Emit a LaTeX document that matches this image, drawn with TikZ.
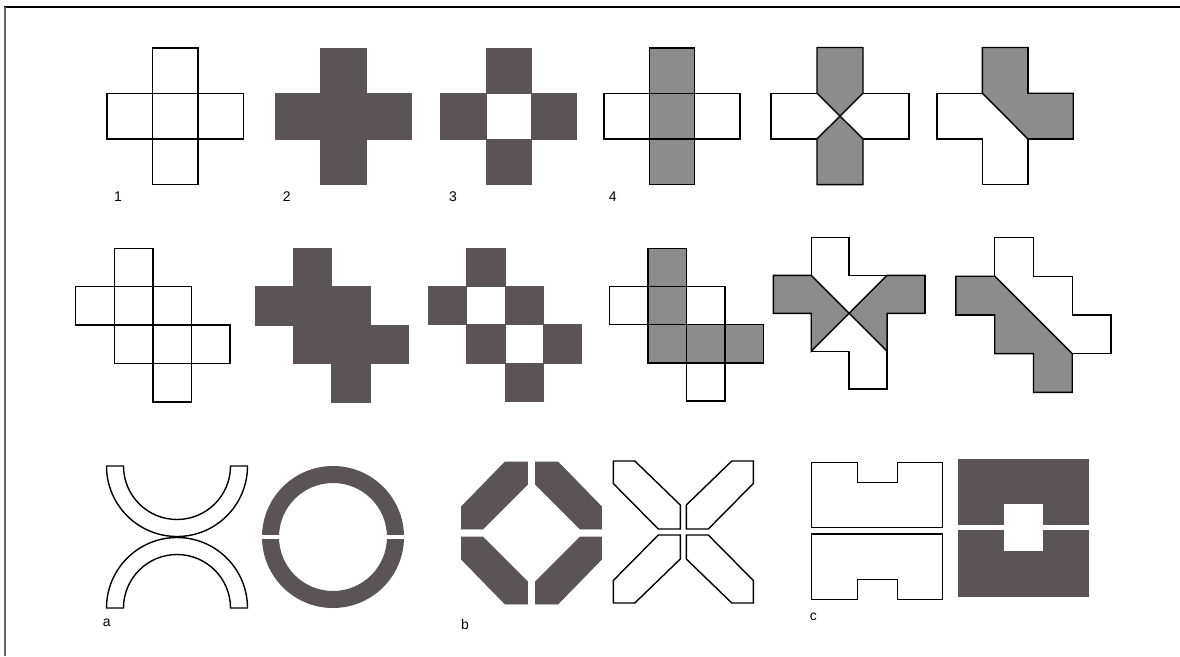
\documentclass[tikz,border=0pt]{standalone}
\usepackage{fontspec}
\setmainfont{Liberation Sans}
\begin{document}
\begin{tikzpicture}[x=1pt,y=-1pt,line join=miter]
\definecolor{darkfill}{RGB}{90,84,86}
\definecolor{lightfill}{RGB}{140,140,140}
\tikzset{
  outl/.style={draw=black,line width=1.4pt},
  darkpc/.style={fill=darkfill,draw=darkfill,line width=0.6pt},
  greypc/.style={fill=lightfill,draw=black,line width=1.4pt},
  whitepc/.style={fill=white,draw=black,line width=1.4pt},
  lab/.style={font=\fontsize{14}{14}\selectfont,inner sep=0pt,anchor=center}
}
\useasboundingbox (0,0) rectangle (1180,656);
\fill[white] (0,0) rectangle (1180,656);
% frame
\draw[line width=2pt,black] (4,6.5) -- (1180,6.5);
\draw[line width=2pt,black!60] (5,6.5) -- (5,656);

% ===== Row 1 =====
% Fig 1
\begin{scope}[shift={(107,48)},x=45.4pt,y=-45.5pt]
  \draw[outl] (1,0) rectangle (2,3);
  \draw[outl] (0,1) rectangle (3,2);
\end{scope}
% Fig 2
\begin{scope}[shift={(275,48)},x=45.5pt,y=-45.5pt]
  \path[darkpc] (1,0)--(2,0)--(2,1)--(3,1)--(3,2)--(2,2)--(2,3)--(1,3)--(1,2)--(0,2)--(0,1)--(1,1)--cycle;
\end{scope}
% Fig 3
\begin{scope}[shift={(440.7,48)},x=45.3pt,y=-45.5pt]
  \path[darkpc] (1,0) rectangle (2,1);
  \path[darkpc] (0,1) rectangle (1,2);
  \path[darkpc] (2,1) rectangle (3,2);
  \path[darkpc] (1,2) rectangle (2,3);
\end{scope}
% Fig 4
\begin{scope}[shift={(604,48)},x=45.3pt,y=-45.5pt]
  \path[whitepc] (0,1) rectangle (3,2);
  \path[greypc] (1,0) rectangle (2,3);
  \draw[outl] (0,1) rectangle (3,2);
\end{scope}
% Fig 5
\begin{scope}[shift={(771,47.5)},x=46pt,y=-45.7pt]
  \path[whitepc] (0,1) rectangle (3,2);
  \path[greypc] (1,0)--(2,0)--(2,1)--(1.5,1.5)--(1,1)--cycle;
  \path[greypc] (1,3)--(2,3)--(2,2)--(1.5,1.5)--(1,2)--cycle;
\end{scope}
% Fig 6
\begin{scope}[shift={(937,47.5)},x=45.4pt,y=-45.7pt]
  \path[whitepc] (1,0)--(2,0)--(2,1)--(3,1)--(3,2)--(2,2)--(2,3)--(1,3)--(1,2)--(0,2)--(0,1)--(1,1)--cycle;
  \path[greypc] (1,0)--(2,0)--(2,1)--(3,1)--(3,2)--(2,2)--(1,1)--cycle;
  \draw[outl] (1,0)--(2,0)--(2,1)--(3,1)--(3,2)--(2,2)--(2,3)--(1,3)--(1,2)--(0,2)--(0,1)--(1,1)--cycle;
\end{scope}
\node[lab] (l1) at (118,197) {1};
\node[lab] (l2) at (286.7,197) {2};
\node[lab] (l3) at (453,197) {3};
\node[lab] (l4) at (612.7,197) {4};

% ===== Row 2 =====
% Fig 7
\begin{scope}[shift={(75.7,248.3)},x=38.6pt,y=-38.4pt]
  \foreach \c/\r in {1/0,0/1,1/1,2/1,1/2,2/2,3/2,2/3}
    \draw[outl] (\c,\r) rectangle ++(1,1);
\end{scope}
% Fig 8
\begin{scope}[shift={(255,248.3)},x=38.3pt,y=-38.4pt]
  \path[darkpc] (1,0)--(2,0)--(2,1)--(3,1)--(3,2)--(4,2)--(4,3)--(3,3)--(3,4)--(2,4)--(2,3)--(1,3)--(1,2)--(0,2)--(0,1)--(1,1)--cycle;
\end{scope}
% Fig 9
\begin{scope}[shift={(428.3,248.3)},x=38.25pt,y=-38.2pt]
  \foreach \c/\r in {1/0,0/1,2/1,1/2,3/2,2/3}
    \path[darkpc] (\c,\r) rectangle ++(1,1);
\end{scope}
% Fig 10
\begin{scope}[shift={(609.3,248.3)},x=38.5pt,y=-38.2pt]
  \foreach \c/\r in {0/1,2/1,2/3}
    \draw[outl] (\c,\r) rectangle ++(1,1);
  \foreach \c/\r in {1/0,1/1,1/2,2/2,3/2}
    \path[greypc] (\c,\r) rectangle ++(1,1);
\end{scope}
% Fig 11
\begin{scope}[shift={(773.3,237.5)},x=37.9pt,y=-37.9pt]
  \path[whitepc] (1,0)--(2,0)--(2,1)--(4,1)--(4,2)--(3,2)--(3,4)--(2,4)--(2,3)--(1,3)--(1,2)--(0,2)--(0,1)--(1,1)--cycle;
  \path[greypc] (0,1)--(1,1)--(2,2)--(1,3)--(1,2)--(0,2)--cycle;
  \path[greypc] (3,1)--(4,1)--(4,2)--(3,2)--(3,3)--(2,2)--cycle;
\end{scope}
% Fig 12
\begin{scope}[shift={(956,237.5)},x=38.75pt,y=-38.7pt]
  \path[whitepc] (1,0)--(2,0)--(2,1)--(3,1)--(3,2)--(4,2)--(4,3)--(3,3)--(3,4)--(2,4)--(2,3)--(1,3)--(1,2)--(0,2)--(0,1)--(1,1)--cycle;
  \path[greypc] (0,1)--(1,1)--(3,3)--(3,4)--(2,4)--(2,3)--(1,3)--(1,2)--(0,2)--cycle;
\end{scope}

% ===== Row 3 =====
% a1: two half annuli
\path[whitepc] (106.5,466) arc[start angle=180,end angle=360,radius=70.5pt]
   -- (230.5,466) arc[start angle=0,end angle=-180,radius=53.5pt] -- cycle;
\path[whitepc] (106.5,608) arc[start angle=180,end angle=0,radius=70.5pt]
   -- (230.5,608) arc[start angle=0,end angle=180,radius=53.5pt] -- cycle;
% a2: split ring
\begin{scope}
  \clip (250,450) rectangle (420,534.5);
  \fill[darkfill,even odd rule] (333,537) circle[radius=71pt] (333,537) circle[radius=54pt];
\end{scope}
\begin{scope}
  \clip (250,539.5) rectangle (420,625);
  \fill[darkfill,even odd rule] (333,537) circle[radius=71pt] (333,537) circle[radius=54pt];
\end{scope}
% b1: four dark bars forming a diamond
\begin{scope}[shift={(531.5,533)}]
  \foreach \sx/\sy in {1/1,-1/1,1/-1,-1/-1}{
    \begin{scope}[xscale=\sx,yscale=\sy]
      \path[darkpc] (-4,-71)--(-4,-48.5)--(-48.5,-4)--(-70,-4)--(-70,-26.5)--(-26.5,-71)--cycle;
    \end{scope}
  }
\end{scope}
% b2: four white bars forming an X
\begin{scope}[shift={(683.3,532)}]
  \foreach \sx/\sy in {1/1,-1/1,1/-1,-1/-1}{
    \begin{scope}[xscale=\sx,yscale=\sy]
      \path[whitepc] (-70,-71)--(-48.5,-71)--(-3,-27)--(-3,-3)--(-25,-3)--(-70,-48.5)--cycle;
    \end{scope}
  }
\end{scope}
% c1
\path[whitepc] (811.7,462.3)--(857.3,462.3)--(857.3,482.3)--(897.3,482.3)--(897.3,462.3)--(942.7,462.3)--(942.7,527.3)--(811.7,527.3)--cycle;
\path[whitepc] (811.7,534)--(942.7,534)--(942.7,599.3)--(897.3,599.3)--(897.3,579.3)--(857.3,579.3)--(857.3,599.3)--(811.7,599.3)--cycle;
% c2
\path[darkpc] (958.3,459.3)--(1088.3,459.3)--(1088.3,524)--(1043.3,524)--(1043.3,503.3)--(1003.3,503.3)--(1003.3,524)--(958.3,524)--cycle;
\path[darkpc] (958.3,530.7)--(1003.3,530.7)--(1003.3,551.7)--(1043.3,551.7)--(1043.3,530.7)--(1088.3,530.7)--(1088.3,596.7)--(958.3,596.7)--cycle;

\node[lab] (la) at (106.7,623) {a};
\node[lab] (lb) at (465,624) {b};
\node[lab] (lc) at (813.3,617) {c};
\end{tikzpicture}
\end{document}
